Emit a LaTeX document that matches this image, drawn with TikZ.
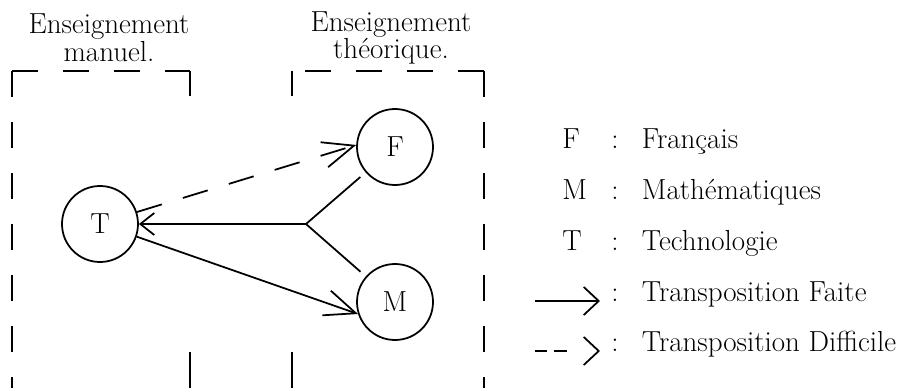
\documentclass[tikz,border=0pt]{standalone}
\usetikzlibrary{arrows.meta}

\tikzset{
  trait/.style={line width=1pt},
  cadre/.style={line width=1.1pt, dash pattern=on 0.52cm off 0.5cm},
  matiere/.style={draw, circle, line width=1pt, minimum size=1.52cm, inner sep=0pt},
  fleche/.style={line width=1pt, -{Straight Barb[length=0.62cm,width=0.52cm]}},
  petitefleche/.style={line width=1pt, -{Straight Barb[length=0.28cm,width=0.44cm]}},
  legfleche/.style={line width=1pt, -{Straight Barb[length=0.3cm,width=0.56cm]}},
  tirets/.style={dash pattern=on 0.52cm off 0.44cm},
  legende/.style={inner sep=0pt},
}

\begin{document}
\begin{tikzpicture}[font=\fontsize{16.5}{14}\selectfont]
    \useasboundingbox (0,0) rectangle (18.08,7.76);

    % Titles of the two frames
    \node[align=center] (titreman) at (2.18,7.0) {Enseignement\\manuel.};
    \node[align=center] (titretheo) at (7.82,7.0) {Enseignement\\théorique.};

    % Left frame (manuel)
    \draw[cadre] (0.24,6.34) -- (0.24,0);
    \draw[cadre] (0.24,6.34) -- (3.8,6.34);
    \draw[trait] (3.8,6.34) -- (3.8,5.84);
    \draw[trait] (3.8,0.72) -- (3.8,0);

    % Right frame (theorique)
    \draw[cadre] (9.68,6.34) -- (9.68,0);
    \draw[cadre] (9.68,6.34) -- (5.84,6.34);
    \draw[trait] (5.84,6.34) -- (5.84,5.84);
    \draw[trait] (5.84,0.72) -- (5.84,0);

    % Subjects
    \node[matiere] (T) at (2.0,3.28) {T};
    \node[matiere] (F) at (7.9,4.82) {F};
    \node[matiere] (M) at (7.9,1.72) {M};
    \coordinate (noeud) at (6.12,3.28); % where F and M meet

    % Transpositions
    \draw[trait, shorten >=0.14cm] (noeud) -- (F);
    \draw[trait, shorten >=0.14cm] (noeud) -- (M);
    \draw[petitefleche] (noeud) -- (T);
    \draw[fleche] (T.341) -- (M.198);
    \draw[fleche, tirets] (T.18) -- (F.177);

    % Legend
    \node[legende, anchor=base west] (cleF) at (11.24,4.79) {F};
    \node[legende, anchor=base] (deuxF) at (12.3,4.79) {:};
    \node[legende, anchor=base west] (nomF) at (12.83,4.79) {Français};

    \node[legende, anchor=base west] (cleM) at (11.24,3.77) {M};
    \node[legende, anchor=base] (deuxM) at (12.3,3.77) {:};
    \node[legende, anchor=base west] (nomM) at (12.83,3.77) {Mathématiques};

    \node[legende, anchor=base west] (cleT) at (11.24,2.76) {T};
    \node[legende, anchor=base] (deuxT) at (12.3,2.76) {:};
    \node[legende, anchor=base west] (nomT) at (12.83,2.76) {Technologie};

    \coordinate (faiteA) at (10.7,1.74);
    \coordinate (faiteB) at (12.0,1.74);
    \draw[legfleche] (faiteA) -- (faiteB);
    \node[legende, anchor=base] (deuxfaite) at (12.3,1.73) {:};
    \node[legende, anchor=base west] (nomfaite) at (12.83,1.73) {Transposition Faite};

    \coordinate (diffA) at (10.7,0.74);
    \coordinate (diffB) at (12.0,0.74);
    \draw[legfleche, dash pattern=on 0.24cm off 0.14cm on 0.26cm off 2cm] (diffA) -- (diffB);
    \node[legende, anchor=base] (deuxdiff) at (12.3,0.73) {:};
    \node[legende, anchor=base west] (nomdiff) at (12.83,0.73) {Transposition Difficile};

\end{tikzpicture}
\end{document}
